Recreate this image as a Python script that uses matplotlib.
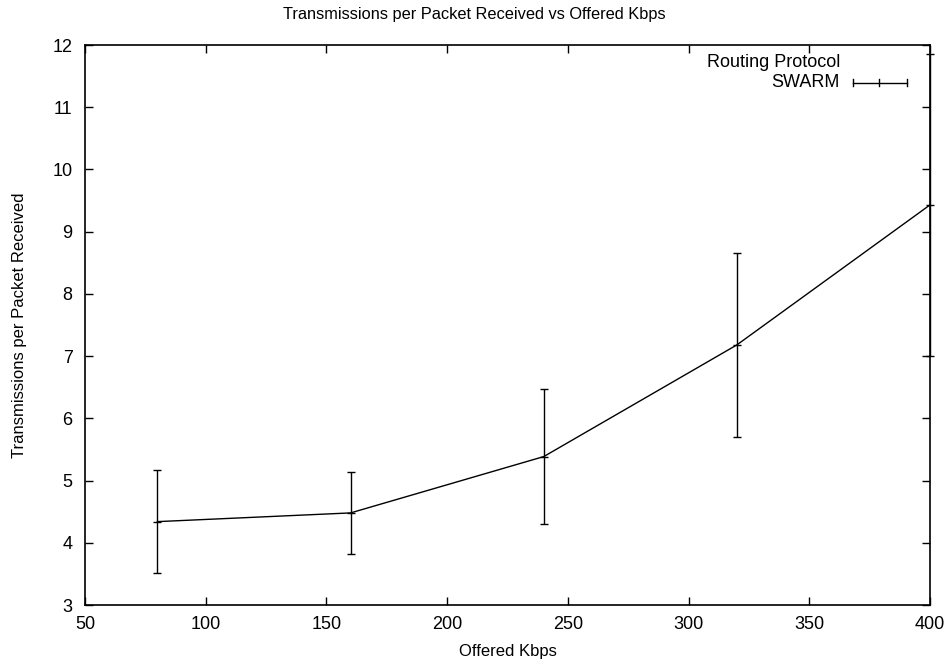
import matplotlib
matplotlib.use('Agg')
import matplotlib.pyplot as plt
import numpy as np

plt.rcParams['font.family'] = ['Liberation Sans', 'DejaVu Sans']
plt.rcParams['font.size'] = 12

# data
offered_kbps = [80, 160, 240, 320, 400]
tx_per_packet = [4.34, 4.48, 5.385, 7.18, 9.43]
tx_err = [0.83, 0.665, 1.085, 1.48, 2.43]

fig = plt.figure(figsize=(9.48, 6.66), dpi=100)
ax = fig.add_axes([85/948, 1 - 605/666, 845/948, 560/666])

eb = ax.errorbar(offered_kbps, tx_per_packet, yerr=tx_err, color='black',
                 linewidth=1.0, elinewidth=1.0, capsize=3, capthick=1.0,
                 marker='_', markersize=6, markeredgewidth=1.0)
for artist in eb.lines[0:1] + tuple(eb.lines[1]) + tuple(eb.lines[2]):
    artist.set_clip_on(False)

ax.set_xlim(50, 400)
ax.set_ylim(3, 12)
ax.set_xticks(np.arange(50, 401, 50))
ax.set_yticks(np.arange(3, 13, 1))
ax.tick_params(direction='in', length=6, width=1.0, top=True, right=True,
               labelsize=13)
ax.tick_params(axis='y', pad=9)
ax.tick_params(axis='x', pad=8)
for s in ax.spines.values():
    s.set_linewidth(1.2)

# title is centred on the whole figure, like gnuplot does
fig.text(0.5, 1 - 15/666, 'Transmissions per Packet Received vs Offered Kbps',
         ha='center', va='center', fontsize=11.8)
ax.set_xlabel('Offered Kbps', fontsize=12, labelpad=8)
ax.set_ylabel('Transmissions per Packet Received', fontsize=12, labelpad=18)

# gnuplot style key
ax.text(0.8935, 0.9696, 'Routing Protocol', transform=ax.transAxes,
        ha='right', va='center', fontsize=13)
ax.text(0.8935, 0.9327, 'SWARM', transform=ax.transAxes,
        ha='right', va='center', fontsize=13)
ky = 0.9327
ax.plot([0.9085, 0.9724], [ky, ky], color='black', linewidth=1.0, transform=ax.transAxes)
for kx in [0.9085, 0.9396, 0.9724]:
    ax.plot([kx, kx], [ky - 0.0065, ky + 0.0065], color='black', linewidth=1.0,
            transform=ax.transAxes)

fig.savefig('out.png', dpi=100)
